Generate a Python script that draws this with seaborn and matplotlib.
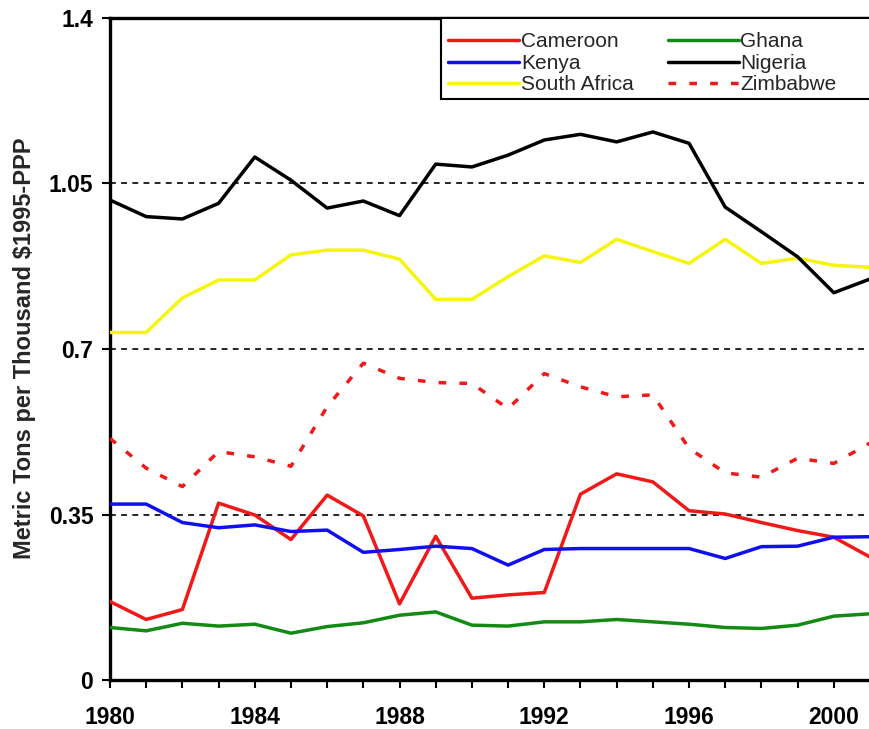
"""Carbon intensity by country, 1980-2001: metric tons per thousand $1995-PPP."""

import matplotlib
matplotlib.use("Agg")
import matplotlib.pyplot as plt
from matplotlib.patches import Rectangle
import pandas as pd
import seaborn as sns

# ── Data ────────────────────────────────────────────────────────────────────
YEARS = list(range(1980, 2002))

CAMEROON = [0.166, 0.128, 0.149, 0.374, 0.349, 0.297, 0.391, 0.347, 0.161, 0.304, 0.173,
            0.180, 0.185, 0.393, 0.436, 0.419, 0.358, 0.351, 0.333, 0.316, 0.302, 0.260]
KENYA = [0.372, 0.372, 0.333, 0.322, 0.328, 0.314, 0.317, 0.270, 0.276, 0.283, 0.278,
         0.243, 0.276, 0.278, 0.278, 0.278, 0.278, 0.257, 0.282, 0.283, 0.302, 0.303]
SOUTH_AFRICA = [0.735, 0.735, 0.808, 0.846, 0.846, 0.899, 0.909, 0.909, 0.890, 0.805, 0.805,
                0.853, 0.897, 0.883, 0.932, 0.906, 0.881, 0.932, 0.881, 0.892, 0.877, 0.873]
GHANA = [0.111, 0.104, 0.120, 0.114, 0.118, 0.099, 0.113, 0.121, 0.137, 0.144, 0.116,
         0.114, 0.123, 0.123, 0.128, 0.123, 0.118, 0.111, 0.109, 0.116, 0.135, 0.140]
NIGERIA = [1.015, 0.980, 0.975, 1.008, 1.106, 1.057, 0.998, 1.013, 0.982, 1.091, 1.085,
           1.110, 1.142, 1.154, 1.138, 1.159, 1.135, 1.000, 0.948, 0.895, 0.819, 0.848]
ZIMBABWE = [0.511, 0.448, 0.409, 0.483, 0.472, 0.452, 0.578, 0.670, 0.638, 0.629, 0.627,
            0.574, 0.648, 0.620, 0.599, 0.603, 0.490, 0.438, 0.429, 0.469, 0.458, 0.501]

SERIES = [
    ("Cameroon", CAMEROON, "#f01818", "-"),
    ("Kenya", KENYA, "#1010ee", "-"),
    ("South Africa", SOUTH_AFRICA, "#f5f510", "-"),
    ("Ghana", GHANA, "#138a13", "-"),
    ("Nigeria", NIGERIA, "#000000", "-"),
    ("Zimbabwe", ZIMBABWE, "#f01818", (0, (2.2, 3.8))),
]

Y_TICKS = [0, 0.35, 0.7, 1.05, 1.4]
Y_TICK_LABELS = ["0", "0.35", "0.7", "1.05", "1.4"]
X_LABEL_YEARS = [1980, 1984, 1988, 1992, 1996, 2000]

W, H = 870, 729  # figure size in px


def main() -> None:
    sns.set_theme(style="white")
    plt.rcParams["font.family"] = ["Liberation Sans", "DejaVu Sans"]

    fig = plt.figure(figsize=(W / 100, H / 100), dpi=100)
    ax = fig.add_axes([110 / W, 1 - 680 / H, 1 - 110 / W, (680 - 18) / H])

    for name, vals, color, ls in SERIES:
        df = pd.DataFrame({"year": YEARS, "value": vals})
        sns.lineplot(data=df, x="year", y="value", ax=ax, color=color,
                     linewidth=2.5, label=name, zorder=3)
        ax.lines[-1].set_linestyle(ls)

    # ── Dashed reference lines ────────────────────────────────────────────────
    for y in Y_TICKS[1:-1]:
        ax.axhline(y, color="black", lw=1.2, ls=(0, (3.5, 3.2)), zorder=1)

    ax.set_xlim(1980, 2000.77)
    ax.set_ylim(0, 1.4)
    ax.set_xticks(YEARS, minor=True)
    ax.set_yticks(Y_TICKS)
    ax.set_xticks(X_LABEL_YEARS)

    for side in ["left", "bottom", "top"]:
        ax.spines[side].set_color("black")
        ax.spines[side].set_linewidth(2.4)
    ax.spines["right"].set_visible(False)

    ax.tick_params(axis="both", which="both", direction="out", length=6, width=1.5,
                   colors="black", left=True, bottom=True)
    ax.tick_params(axis="x", which="major", pad=13)
    ax.tick_params(axis="y", which="major", pad=6)
    ax.set_yticklabels(Y_TICK_LABELS, fontsize=16.5, fontweight="bold")
    ax.set_xticklabels([str(y) for y in X_LABEL_YEARS], fontsize=16.5, fontweight="bold")

    ax.set_xlabel("")
    ax.set_ylabel("")
    fig.text(25 / W, 1 - 348 / H, "Metric Tons per Thousand $1995-PPP", rotation=90,
             fontsize=17, fontweight="bold", ha="center", va="center")

    # ── Legend: box runs off the right edge, as in the reference ─────────────
    ax.add_patch(Rectangle((441 / W, 1 - 99 / H), 460 / W, 81 / H,
                           transform=fig.transFigure, facecolor="white",
                           edgecolor="black", linewidth=1.5, zorder=4.5, clip_on=False))
    handles, labels = ax.get_legend_handles_labels()
    leg = ax.legend(handles, labels, ncol=2, loc="upper left",
                    bbox_to_anchor=(441 / W, 1 - 25 / H), bbox_transform=fig.transFigure,
                    frameon=False, fontsize=15, handlelength=3.4,
                    handletextpad=0.08, labelspacing=0.12, borderpad=0.35,
                    columnspacing=1.65, borderaxespad=0)
    leg.set_zorder(6)

    fig.savefig("out.png", dpi=100)
    plt.close(fig)


if __name__ == "__main__":
    main()
